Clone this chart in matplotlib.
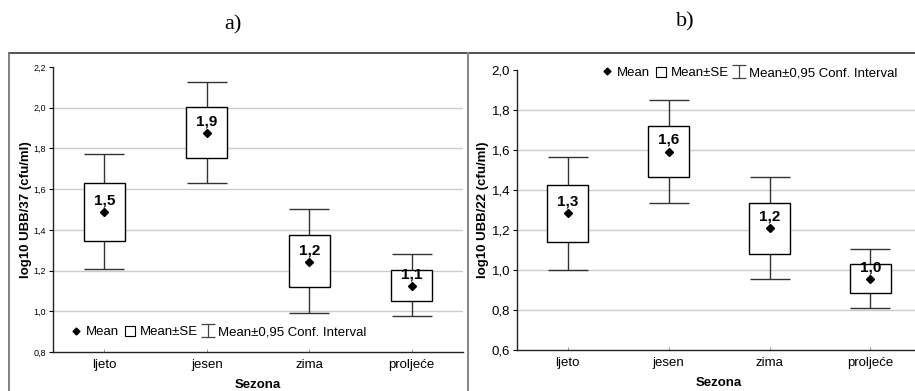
import numpy as np
import matplotlib
matplotlib.use("Agg")
import matplotlib.pyplot as plt
from matplotlib.lines import Line2D
from matplotlib.patches import Patch
from matplotlib.ticker import FuncFormatter, MultipleLocator

plt.rcParams['font.family'] = ['Liberation Sans', 'DejaVu Sans']

seasons = ['ljeto', 'jesen', 'zima', 'proljeće']

# a) log10 UBB/37
mean_37 = [1.488, 1.876, 1.242, 1.124]
se_lo_37 = [1.347, 1.753, 1.118, 1.050]
se_hi_37 = [1.630, 2.004, 1.376, 1.203]
ci_lo_37 = [1.206, 1.629, 0.992, 0.975]
ci_hi_37 = [1.771, 2.128, 1.501, 1.281]
labels_37 = ['1,5', '1,9', '1,2', '1,1']

# b) log10 UBB/22
mean_22 = [1.283, 1.591, 1.208, 0.955]
se_lo_22 = [1.142, 1.465, 1.081, 0.883]
se_hi_22 = [1.423, 1.719, 1.337, 1.031]
ci_lo_22 = [1.000, 1.337, 0.956, 0.809]
ci_hi_22 = [1.566, 1.848, 1.465, 1.105]
labels_22 = ['1,3', '1,6', '1,2', '1,0']

W, H = 915, 391
fig = plt.figure(figsize=(W / 100, H / 100), dpi=100)


def comma(v, pos):
    return f"{v:.1f}".replace('.', ',')


def draw_panel(rect, mean, se_lo, se_hi, ci_lo, ci_hi, labels, ylim, ylabel,
               tick_fs, legend_anchor):
    ax = fig.add_axes(rect)
    x = np.arange(len(seasons))
    mean = np.array(mean)
    ci_lo = np.array(ci_lo)
    ci_hi = np.array(ci_hi)
    se_lo = np.array(se_lo)
    se_hi = np.array(se_hi)

    ax.errorbar(x, mean, yerr=[mean - ci_lo, ci_hi - mean], fmt='none',
                ecolor='#333333', elinewidth=1.0, capsize=14.4, capthick=1.0,
                zorder=2)
    ax.bar(x, se_hi - se_lo, bottom=se_lo, width=0.4, facecolor='white',
           edgecolor='black', linewidth=1.0, zorder=3)
    ax.plot(x, mean, 'D', color='black', ms=4.3, zorder=4)
    for xi, m, lab in zip(x, mean, labels):
        ax.annotate(lab, (xi, m), xytext=(0, 3.5), textcoords='offset points',
                    ha='center', va='bottom', fontsize=11, fontweight='bold',
                    zorder=5)

    ax.set_xlim(-0.5, len(seasons) - 0.5)
    ax.set_ylim(*ylim)
    ax.yaxis.set_major_locator(MultipleLocator(0.2))
    ax.yaxis.set_major_formatter(FuncFormatter(comma))
    for t in np.arange(ylim[0] + 0.2, ylim[1] - 0.1, 0.2):
        ax.axhline(t, color='#cccccc', lw=1.0, zorder=0)

    ax.set_xticks(x)
    ax.set_xticklabels(seasons, fontsize=9.5)
    ax.tick_params(axis='x', direction='in', length=2, width=0.6,
                   color='#888888', pad=5)
    ax.tick_params(axis='y', direction='out', length=3, width=0.8,
                   labelsize=tick_fs, pad=2)

    for s in ['top', 'right']:
        ax.spines[s].set_visible(False)
    for s in ['left', 'bottom']:
        ax.spines[s].set_linewidth(1.0)
        ax.spines[s].set_color('#222222')

    ax.set_ylabel(ylabel, fontsize=9.5, fontweight='bold')
    ax.set_xlabel('Sezona', fontsize=9.5, fontweight='bold')

    # legend proxies
    eb = ax.errorbar([np.nan], [np.nan], yerr=[[0.1]], fmt='none',
                     ecolor='#444444', elinewidth=0.9, capsize=5, capthick=0.9)
    handles = [
        Line2D([], [], marker='D', ls='none', color='black', ms=3.5),
        Patch(facecolor='white', edgecolor='black', linewidth=0.8),
        eb,
    ]
    ax.legend(handles, ['Mean', 'Mean±SE', 'Mean±0,95 Conf. Interval'],
              ncol=3, frameon=False, fontsize=9.5, handlelength=0.8,
              handleheight=0.85, handletextpad=0.35, columnspacing=0.4,
              borderpad=0, borderaxespad=0, loc='center left',
              bbox_to_anchor=legend_anchor)
    return ax


# left panel
axL = draw_panel([53 / W, (H - 352) / H, 410 / W, 285 / H],
                 mean_37, se_lo_37, se_hi_37, ci_lo_37, ci_hi_37, labels_37,
                 (0.8, 2.2), 'log10 UBB/37 (cfu/ml)', 6.5,
                 ((71 - 53) / 410, (352 - 332) / 285))
axL.yaxis.set_label_coords(-21 / 410, 0.5)
axL.xaxis.set_label_coords(0.5, -27 / 285)

# right panel
axR = draw_panel([517 / W, (H - 350) / H, 404 / W, 280 / H],
                 mean_22, se_lo_22, se_hi_22, ci_lo_22, ci_hi_22, labels_22,
                 (0.6, 2.0), 'log10 UBB/22 (cfu/ml)', 9.5,
                 ((602 - 517) / 404, (350 - 73) / 280))
axR.yaxis.set_label_coords(-28 / 404, 0.5)
axR.xaxis.set_label_coords(0.5, -27 / 280)

# panel frames
fig.add_artist(Line2D([9 / W, 1], [1 - 53 / H] * 2, color='#444444', lw=1.3,
                      transform=fig.transFigure))
fig.add_artist(Line2D([9 / W] * 2, [0, 1 - 53 / H], color='#777777', lw=1.3,
                      transform=fig.transFigure))
fig.add_artist(Line2D([468 / W] * 2, [0, 1 - 53 / H], color='#888888', lw=1.5,
                      transform=fig.transFigure))

fig.text(233 / W, 1 - 25 / H, 'a)', ha='center', va='center', fontsize=16,
         family='Liberation Serif')
fig.text(685 / W, 1 - 22 / H, 'b)', ha='center', va='center', fontsize=16,
         family='Liberation Serif')

fig.savefig('out.png', dpi=100)
